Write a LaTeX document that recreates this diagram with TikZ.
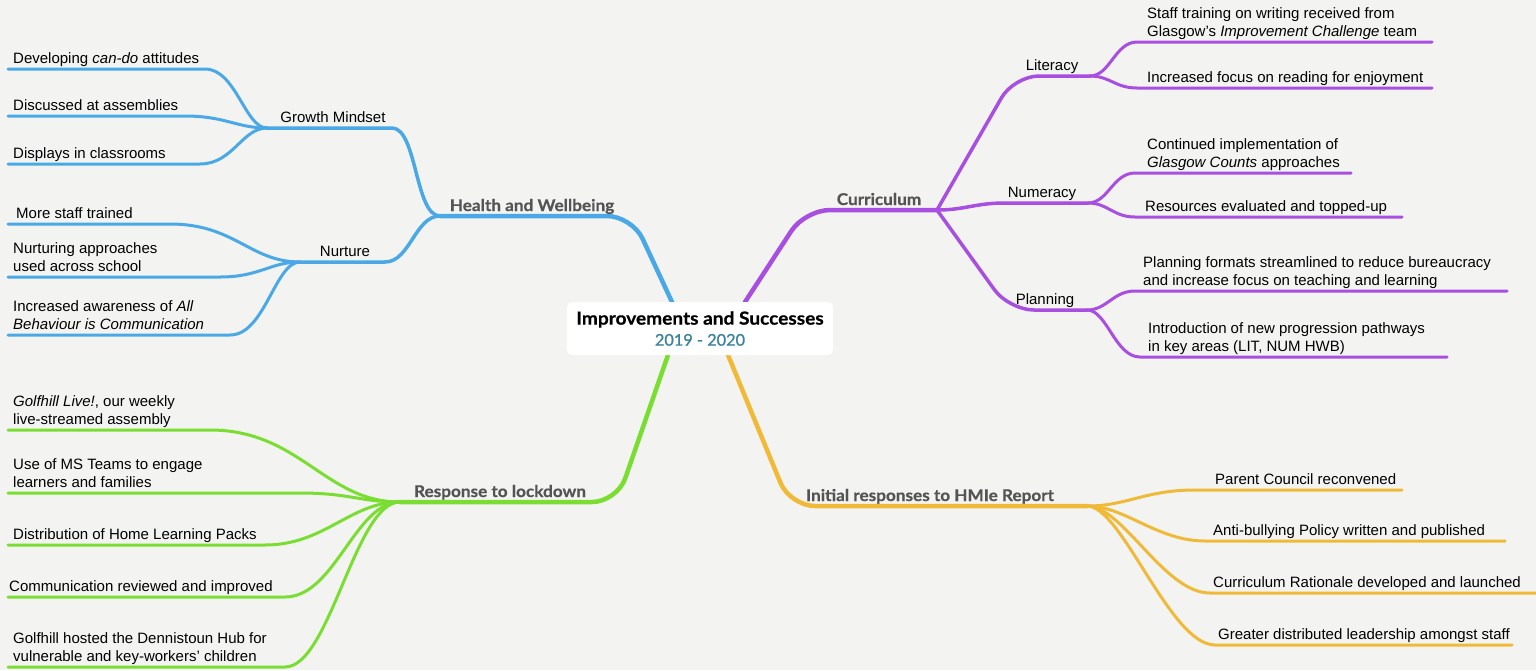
\documentclass[tikz,border=0pt]{standalone}
\usepackage{fontspec}
\setmainfont{Liberation Sans}
\newfontfamily\gill{Lato}[FakeStretch=1.06,BoldFeatures={FakeBold=0.5}]
\newfontfamily\yearfont{Lato}[FakeStretch=1.02,FakeBold=1.2]
\definecolor{bgc}{RGB}{243,244,242}
\definecolor{cblue}{RGB}{74,168,230}
\definecolor{cpurple}{RGB}{168,78,224}
\definecolor{cgreen}{RGB}{122,222,50}
\definecolor{cyellow}{RGB}{240,186,56}
\definecolor{lgray}{RGB}{84,84,84}
\definecolor{yearc}{RGB}{58,130,156}
\pgfdeclarelayer{back}
\pgfdeclarelayer{bg}
\pgfsetlayers{back,bg,main}
\tikzset{
  leaf/.style={anchor=north west, inner sep=0pt, align=left, font=\fontsize{15}{17.7}\selectfont, text=black},
  sublabel/.style={anchor=base, inner sep=0pt, font=\fontsize{15}{17.7}\selectfont, text=black},
  mainlabel/.style={anchor=base, inner sep=0pt, font=\gill\bfseries\fontsize{16.2}{18}\selectfont, text=lgray},
  centerbox/.style={fill=white, rounded corners=5pt, minimum width=266pt, minimum height=53pt, inner sep=0pt, align=center, font=\gill\bfseries\fontsize{18}{21}\selectfont},
  lone/.style={line width=4.5pt, line cap=round, line join=round, rounded corners=25pt},
  ltwo/.style={line width=3.5pt, line cap=round, line join=round},
  lthree/.style={line width=3pt, line cap=round, line join=round},
}
\begin{document}
\begin{tikzpicture}[x=1pt,y=-1pt]
\begin{pgfonlayer}{back}
\fill[bgc] (0,0) rectangle (1536,670);
\end{pgfonlayer}
\useasboundingbox (0,0) rectangle (1536,670);

% centre
\node[centerbox] (center) at (700,328.5) {Improvements and Successes\\{\color{yearc}\yearfont\mdseries\fontsize{16}{18}\selectfont 2019 - 2020}};

% junction and attachment coordinates
\coordinate (c-hwb) at (672,302);
\coordinate (c-cur) at (745,302);
\coordinate (c-gr) at (668,355);
\coordinate (c-hm) at (728,355);
\coordinate (hwb-c) at (632,216);
\coordinate (hwbJ) at (440,216);
\coordinate (gm-t) at (392,128);
\coordinate (gmJ) at (267,128);
\coordinate (nu-t) at (385,262);
\coordinate (nuJ) at (300,262);
\coordinate (cur-c) at (805,210);
\coordinate (curJ) at (937,210);
\coordinate (lit-c) at (1014,76);
\coordinate (litJ) at (1090,76);
\coordinate (num-t) at (1005,203);
\coordinate (numJ) at (1088,203);
\coordinate (pla-c) at (1009,310);
\coordinate (plaJ) at (1087,310);
\coordinate (gr-c) at (617,502);
\coordinate (grJ) at (400,502);
\coordinate (hm-c) at (790,506);
\coordinate (hmJ) at (1087,506);

% leaf line coordinates
\coordinate (gm1-s) at (205,69);  \coordinate (gm1-l) at (8,69);
\coordinate (gm2-s) at (185,116); \coordinate (gm2-l) at (8,116);
\coordinate (gm3-s) at (200,164); \coordinate (gm3-l) at (8,164);
\coordinate (nu1-s) at (170,224); \coordinate (nu1-l) at (8,224);
\coordinate (nu2-s) at (220,277); \coordinate (nu2-l) at (8,277);
\coordinate (nu3-s) at (230,335); \coordinate (nu3-l) at (8,335);
\coordinate (gr1-s) at (210,430); \coordinate (gr1-l) at (8,430);
\coordinate (gr2-s) at (300,493); \coordinate (gr2-l) at (8,493);
\coordinate (gr3-s) at (265,545); \coordinate (gr3-l) at (8,545);
\coordinate (gr4-s) at (285,597); \coordinate (gr4-l) at (8,597);
\coordinate (gr5-s) at (285,667); \coordinate (gr5-l) at (8,667);
\coordinate (li1-s) at (1137,42);  \coordinate (li1-r) at (1432,42);
\coordinate (li2-s) at (1137,88);  \coordinate (li2-r) at (1432,88);
\coordinate (nm1-s) at (1135,173); \coordinate (nm1-r) at (1351,173);
\coordinate (nm2-s) at (1135,217); \coordinate (nm2-r) at (1402,217);
\coordinate (pl1-s) at (1135,291); \coordinate (pl1-r) at (1507,291);
\coordinate (pl2-s) at (1140,357); \coordinate (pl2-r) at (1447,357);
\coordinate (hm1-s) at (1195,490); \coordinate (hm1-r) at (1402,490);
\coordinate (hm2-s) at (1205,541); \coordinate (hm2-r) at (1505,541);
\coordinate (hm3-s) at (1210,593); \coordinate (hm3-r) at (1540,593);
\coordinate (hm4-s) at (1215,645); \coordinate (hm4-r) at (1512,645);

\begin{pgfonlayer}{bg}
% Health and Wellbeing
\draw[lone,cblue] (c-hwb) -- (hwb-c) -- (hwbJ);
\draw[ltwo,cblue] (hwbJ) .. controls (415,216) and (417,128) .. (gm-t) -- (gmJ);
\draw[ltwo,cblue] (hwbJ) .. controls (415,216) and (410,262) .. (nu-t) -- (nuJ);
\draw[lthree,cblue] (gmJ) .. controls +(-22,0) and +(31,0) .. (gm1-s) -- (gm1-l);
\draw[lthree,cblue] (gmJ) .. controls +(-30,0) and +(40,0) .. (gm2-s) -- (gm2-l);
\draw[lthree,cblue] (gmJ) .. controls +(-25,0) and +(33,0) .. (gm3-s) -- (gm3-l);
\draw[lthree,cblue] (nuJ) .. controls +(-50,0) and +(65,0) .. (nu1-s) -- (nu1-l);
\draw[lthree,cblue] (nuJ) .. controls +(-30,0) and +(40,0) .. (nu2-s) -- (nu2-l);
\draw[lthree,cblue] (nuJ) .. controls +(-25,0) and +(35,0) .. (nu3-s) -- (nu3-l);
% Response to lockdown
\draw[lone,cgreen] (c-gr) -- (gr-c) -- (grJ);
\draw[lthree,cgreen] (grJ) .. controls +(-75,0) and +(90,0) .. (gr1-s) -- (gr1-l);
\draw[lthree,cgreen] (grJ) .. controls +(-40,0) and +(50,0) .. (gr2-s) -- (gr2-l);
\draw[lthree,cgreen] (grJ) .. controls +(-50,0) and +(60,0) .. (gr3-s) -- (gr3-l);
\draw[lthree,cgreen] (grJ) .. controls +(-45,0) and +(50,0) .. (gr4-s) -- (gr4-l);
\draw[lthree,cgreen] (grJ) .. controls +(-45,0) and +(45,0) .. (gr5-s) -- (gr5-l);
% Curriculum
\draw[lone,cpurple] (c-cur) -- (cur-c) -- (curJ);
\draw[ltwo,cpurple,rounded corners=25pt] (curJ) -- (lit-c) -- (litJ);
\draw[ltwo,cpurple] (curJ) .. controls (965,210) and (975,203) .. (num-t) -- (numJ);
\draw[ltwo,cpurple,rounded corners=25pt] (curJ) -- (pla-c) -- (plaJ);
\draw[lthree,cpurple] (litJ) .. controls +(20,0) and +(-22,0) .. (li1-s) -- (li1-r);
\draw[lthree,cpurple] (litJ) .. controls +(20,0) and +(-22,0) .. (li2-s) -- (li2-r);
\draw[lthree,cpurple] (numJ) .. controls +(20,0) and +(-22,0) .. (nm1-s) -- (nm1-r);
\draw[lthree,cpurple] (numJ) .. controls +(20,0) and +(-22,0) .. (nm2-s) -- (nm2-r);
\draw[lthree,cpurple] (plaJ) .. controls +(20,0) and +(-22,0) .. (pl1-s) -- (pl1-r);
\draw[lthree,cpurple] (plaJ) .. controls +(20,0) and +(-25,0) .. (pl2-s) -- (pl2-r);
% HMIe
\draw[lone,cyellow] (c-hm) -- (hm-c) -- (hmJ);
\draw[lthree,cyellow] (hmJ) .. controls +(40,0) and +(-50,0) .. (hm1-s) -- (hm1-r);
\draw[lthree,cyellow] (hmJ) .. controls +(38,0) and +(-48,0) .. (hm2-s) -- (hm2-r);
\draw[lthree,cyellow] (hmJ) .. controls +(36,0) and +(-46,0) .. (hm3-s) -- (hm3-r);
\draw[lthree,cyellow] (hmJ) .. controls +(35,0) and +(-45,0) .. (hm4-s) -- (hm4-r);
\end{pgfonlayer}

% main labels
\node[mainlabel] (hwb) at (532,211) {Health and Wellbeing};
\node[mainlabel] (cur) at (879,205) {Curriculum};
\node[mainlabel] (gr) at (500,497) {Response to lockdown};
\node[mainlabel] (hm) at (930,501) {Initial responses to HMIe Report};

% sub labels
\node[sublabel] (gm) at (333,122.5) {Growth Mindset};
\node[sublabel] (nu) at (345,256.5) {Nurture};
\node[sublabel] (lit) at (1052,70.5) {Literacy};
\node[sublabel] (num) at (1042,197.5) {Numeracy};
\node[sublabel] (pla) at (1045,304.5) {Planning};

% leaves
\node[leaf] (gm1) at (13,52) {Developing \textit{can-do} attitudes};
\node[leaf] (gm2) at (13,99) {Discussed at assemblies};
\node[leaf] (gm3) at (13,147) {Displays in classrooms};
\node[leaf] (nu1) at (16,207) {More staff trained};
\node[leaf] (nu2) at (13,242.3) {Nurturing approaches\\used across school};
\node[leaf] (nu3) at (13,300.3) {Increased awareness of \textit{All}\\\textit{Behaviour is Communication}};
\node[leaf] (gr1) at (13,395.3) {\textit{Golfhill Live!}, our weekly\\live-streamed assembly};
\node[leaf] (gr2) at (13,458.3) {Use of MS Teams to engage\\learners and families};
\node[leaf] (gr3) at (13,528) {Distribution of Home Learning Packs};
\node[leaf] (gr4) at (9,580) {Communication reviewed and improved};
\node[leaf] (gr5) at (13,632.3) {Golfhill hosted the Dennistoun Hub for\\vulnerable and key-workers' children};
\node[leaf] (li1) at (1147,7.3) {Staff training on writing received from\\Glasgow's \textit{Improvement Challenge} team};
\node[leaf] (li2) at (1147,71) {Increased focus on reading for enjoyment};
\node[leaf] (nm1) at (1147,138.3) {Continued implementation of\\\textit{Glasgow Counts} approaches};
\node[leaf] (nm2) at (1145,200) {Resources evaluated and topped-up};
\node[leaf] (pl1) at (1143,256.3) {Planning formats streamlined to reduce bureaucracy\\and increase focus on teaching and learning};
\node[leaf] (pl2) at (1148,322.3) {Introduction of new progression pathways\\in key areas (LIT, NUM HWB)};
\node[leaf] (hm1) at (1215,473) {Parent Council reconvened};
\node[leaf] (hm2) at (1213,524) {Anti-bullying Policy written and published};
\node[leaf] (hm3) at (1213,576) {Curriculum Rationale developed and launched};
\node[leaf] (hm4) at (1218,628) {Greater distributed leadership amongst staff};
\end{tikzpicture}
\end{document}
